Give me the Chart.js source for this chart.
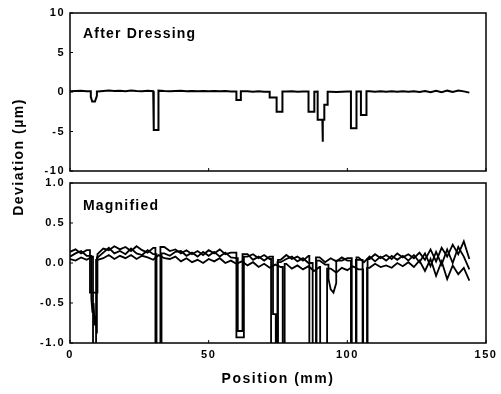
<!DOCTYPE html>
<html>
<head>
<meta charset="utf-8">
<script src="https://cdn.jsdelivr.net/npm/chart.js@4.4.1/dist/chart.umd.min.js"></script>
<style>
  body { margin: 0; background: #fff; }
  #wrap { position: relative; width: 501px; height: 394px; }
  canvas { position: absolute; left: 0; top: 0; }
</style>
</head>
<body>
<div id="wrap">
  <canvas id="top-chart" width="501" height="394"></canvas>
  <canvas id="bottom-chart" width="501" height="394"></canvas>
</div>
<script>
'use strict';

// ******** DATA **************
let xTicks = [0, 50, 100, 150];
let topYTicks = [-10, -5, 0, 5, 10];
let bottomYTicks = [-1.0, -0.5, 0.0, 0.5, 1.0];

// baseline positions (mm), one every 2 mm
let positions = [0, 2, 4, 6, 8, 10, 12, 14, 16, 18, 20, 22, 24, 26, 28, 30, 32, 34, 36, 38,
  40, 42, 44, 46, 48, 50, 52, 54, 56, 58, 60, 62, 64, 66, 68, 70, 72, 74, 76, 78,
  80, 82, 84, 86, 88, 90, 92, 94, 96, 98, 100, 102, 104, 106, 108, 110, 112, 114, 116, 118,
  120, 122, 124, 126, 128, 130, 132, 134, 136, 138, 140, 142, 144];

// three scans, deviation in um
let traceA = [0.14, 0.17, 0.12, 0.16, 0.13, 0.11, 0.18, 0.16, 0.21, 0.17,
  0.20, 0.15, 0.21, 0.16, 0.13, 0.19, 0.14, 0.20, 0.15, 0.17,
  0.12, 0.16, 0.11, 0.15, 0.10, 0.16, 0.12, 0.17, 0.11, 0.13,
  0.10, 0.13, 0.08, 0.11, 0.06, 0.10, 0.05, 0.09, 0.04, 0.10,
  0.05, 0.08, 0.03, 0.09, 0.02, 0.07, 0.01, 0.06, 0.02, 0.07,
  0.03, 0.09, 0.04, 0.10, 0.05, 0.11, 0.06, 0.10, 0.05, 0.12,
  0.07, 0.11, 0.06, 0.13, 0.04, 0.17, 0.02, 0.19, 0.08, 0.23,
  0.11, 0.27, 0.05];
let traceB = [0.08, 0.12, 0.15, 0.09, 0.11, 0.07, 0.13, 0.19, 0.12, 0.15,
  0.11, 0.18, 0.12, 0.10, 0.16, 0.11, 0.17, 0.12, 0.09, 0.14,
  0.15, 0.09, 0.13, 0.08, 0.14, 0.09, 0.14, 0.08, 0.13, 0.07,
  0.06, 0.09, 0.11, 0.04, 0.08, 0.03, 0.08, 0.06, 0.01, 0.05,
  0.08, 0.02, 0.06, 0.00, 0.05, 0.03, -0.02, 0.04, -0.01, 0.03,
  0.06, 0.00, 0.07, 0.01, 0.08, 0.02, 0.08, 0.03, 0.09, 0.04,
  0.09, 0.03, 0.10, 0.01, 0.12, -0.04, 0.14, -0.02, 0.17, 0.00,
  0.20, 0.08, -0.08];
let traceC = [0.05, 0.03, 0.07, 0.04, 0.08, 0.04, 0.06, 0.10, 0.05, 0.09,
  0.06, 0.10, 0.05, 0.09, 0.07, 0.04, 0.10, 0.06, 0.05, 0.08,
  0.02, 0.06, 0.01, 0.04, 0.00, 0.05, 0.02, 0.06, 0.00, 0.03,
  -0.01, 0.02, -0.03, 0.01, -0.05, -0.01, -0.06, -0.02, -0.05, -0.01,
  -0.07, -0.03, -0.08, -0.04, -0.10, -0.05, -0.11, -0.07, -0.12, -0.06,
  -0.09, -0.04, -0.08, -0.02, -0.06, -0.01, -0.05, -0.03, -0.06, 0.00,
  -0.04, 0.01, -0.05, 0.03, -0.10, 0.05, -0.16, 0.02, -0.20, -0.03,
  -0.14, -0.06, -0.22];

// dips: [position, deviation] pairs, cut into the baseline
let topDips = [
  [[7.5, -0.6], [8.0, -1.2], [9.0, -1.2], [9.7, -0.5]],
  [[30.2, -4.8], [31.8, -4.8]],
  [[60.0, -1.0], [61.6, -1.0]],
  [[72.0, -0.7], [74.5, -0.7], [74.5, -2.5], [76.6, -2.5]],
  [[86.0, -2.5], [88.1, -2.5]],
  [[89.3, -3.5], [91.0, -3.5], [91.1, -6.3], [91.2, -3.5], [91.7, -3.5], [91.7, -1.6], [92.9, -1.6]],
  [[101.3, -4.6], [103.3, -4.6]],
  [[104.9, -2.9], [106.9, -2.9]]
];
let dipsA = [
  [[7.2, -0.37], [9.8, -0.37]],
  [[30.8, -1.5], [32.6, -1.5]],
  [[60.0, -0.93], [62.7, -0.93]],
  [[72.5, -1.5], [75.0, -1.5]],
  [[86.3, -1.5], [88.7, -1.5]],
  [[101.3, -1.5], [103.1, -1.5]],
  [[105.5, -1.5], [107.3, -1.5]]
];
let dipsB = [
  [[7.7, -0.45], [8.1, -0.62], [8.5, -0.5], [8.9, -0.78], [9.3, -0.66], [9.7, -0.88]],
  [[31.2, -1.5], [33.0, -1.5]],
  [[60.5, -0.85], [62.2, -0.85]],
  [[73.2, -0.64], [74.2, -0.64], [74.2, -1.5], [74.8, -1.5]],
  [[87.5, -1.5], [88.9, -1.5]],
  [[93.2, -0.2], [94.0, -0.33], [95.0, -0.37], [96.0, -0.25]],
  [[101.6, -1.5], [103.3, -1.5]]
];
let dipsC = [
  [[8.3, -1.5], [9.4, -1.5]],
  [[76.7, -1.5], [77.4, -1.5]],
  [[90.2, -1.5], [92.7, -1.5]],
  [[105.7, -1.5], [107.1, -1.5]]
];

// *********** HELPERS ***************
function buildTrace(base, dips) {
  let pts = [];
  let i = 0;
  let d = 0;
  while (i < positions.length) {
    let dip = dips[d];
    if (dip && positions[i] >= dip[0][0]) {
      let x1 = dip[dip.length - 1][0];
      let prevY = i > 0 ? base[i - 1] : base[0];
      pts.push({ x: dip[0][0], y: prevY });
      dip.forEach(p => pts.push({ x: p[0], y: p[1] }));
      while (i < positions.length && positions[i] <= x1) i++;
      let nextY = i < positions.length ? base[i] : base[base.length - 1];
      pts.push({ x: x1, y: nextY });
      d++;
    } else {
      pts.push({ x: positions[i], y: base[i] });
      i++;
    }
  }
  return pts;
}

function lineSet(pts, width) {
  return {
    data: pts,
    borderColor: '#000',
    borderWidth: width,
    pointRadius: 0,
    tension: 0,
    fill: false
  };
}

const FONT = '"Liberation Sans", Arial, sans-serif';
Chart.defaults.font.family = FONT;
Chart.defaults.font.size = 11;
Chart.defaults.font.weight = 'bold';
Chart.defaults.color = '#000';

let framePlugin = {
  id: 'frame',
  beforeDraw(chart) {
    chart.ctx.letterSpacing = '1.5px';
  },
  afterDraw(chart, args, opts) {
    let ctx = chart.ctx;
    let a = chart.chartArea;
    ctx.save();
    ctx.strokeStyle = '#000';
    ctx.lineWidth = 1.5;
    ctx.strokeRect(a.left, a.top, a.right - a.left, a.bottom - a.top);
    ctx.lineWidth = 1;
    let ys = chart.scales.y;
    ys.ticks.forEach(t => {
      let py = ys.getPixelForValue(t.value);
      ctx.beginPath(); ctx.moveTo(a.left, py); ctx.lineTo(a.left + 3, py); ctx.stroke();
    });
    let xs = chart.scales.x;
    xTicks.forEach(v => {
      let px = xs.getPixelForValue(v);
      ctx.beginPath(); ctx.moveTo(px, a.bottom); ctx.lineTo(px, a.bottom - 3); ctx.stroke();
    });
    ctx.fillStyle = '#000';
    ctx.font = 'bold 14px ' + FONT;
    ctx.letterSpacing = '1.2px';
    ctx.textAlign = 'left';
    ctx.textBaseline = 'alphabetic';
    ctx.fillText(opts.label, a.left + 13, opts.labelY);
    if (opts.yTitle) {
      ctx.letterSpacing = '1.5px';
      ctx.translate(19, 157);
      ctx.rotate(-Math.PI / 2);
      ctx.textAlign = 'center';
      ctx.textBaseline = 'middle';
      ctx.fillText(opts.yTitle, 0, 0);
    }
    ctx.restore();
  }
};

function yScale(min, max, ticks, fmt) {
  return {
    type: 'linear',
    min: min,
    max: max,
    afterBuildTicks: s => { s.ticks = ticks.map(v => ({ value: v })); },
    afterFit: s => { s.width = 70; },
    grid: { display: false, drawTicks: false },
    border: { display: false },
    ticks: { padding: 5, callback: fmt }
  };
}

// *********** TOP PANEL ***************
new Chart(document.getElementById('top-chart'), {
  type: 'line',
  data: { datasets: [lineSet(buildTrace(traceB, topDips), 2)] },
  options: {
    responsive: false,
    animation: false,
    layout: { padding: { top: 13, right: 15, bottom: 223, left: 0 } },
    plugins: {
      legend: { display: false },
      tooltip: { enabled: false },
      frame: { label: 'After Dressing', labelY: 37.5 }
    },
    scales: {
      x: { type: 'linear', min: 0, max: 150, display: false },
      y: yScale(-10, 10, topYTicks, v => String(v))
    }
  },
  plugins: [framePlugin]
});

// *********** BOTTOM PANEL ***************
new Chart(document.getElementById('bottom-chart'), {
  type: 'line',
  data: {
    datasets: [
      lineSet(buildTrace(traceA, dipsA), 1.8),
      lineSet(buildTrace(traceB, dipsB), 1.8),
      lineSet(buildTrace(traceC, dipsC), 1.8)
    ]
  },
  options: {
    responsive: false,
    animation: false,
    layout: { padding: { top: 183, right: 15, bottom: 0, left: 0 } },
    plugins: {
      legend: { display: false },
      tooltip: { enabled: false },
      frame: { label: 'Magnified', labelY: 210, yTitle: 'Deviation (\u00b5m)' }
    },
    scales: {
      x: {
        type: 'linear',
        min: 0,
        max: 150,
        afterBuildTicks: s => { s.ticks = xTicks.map(v => ({ value: v })); },
        afterFit: s => { s.height = 51; },
        grid: { display: false, drawTicks: false },
        border: { display: false },
        ticks: { padding: 5 },
        title: {
          display: true,
          text: 'Position (mm)',
          font: { size: 14, weight: 'bold' },
          padding: { top: 0, bottom: 6 }
        }
      },
      y: yScale(-1, 1, bottomYTicks, v => v.toFixed(1))
    }
  },
  plugins: [framePlugin]
});
</script>
</body>
</html>
